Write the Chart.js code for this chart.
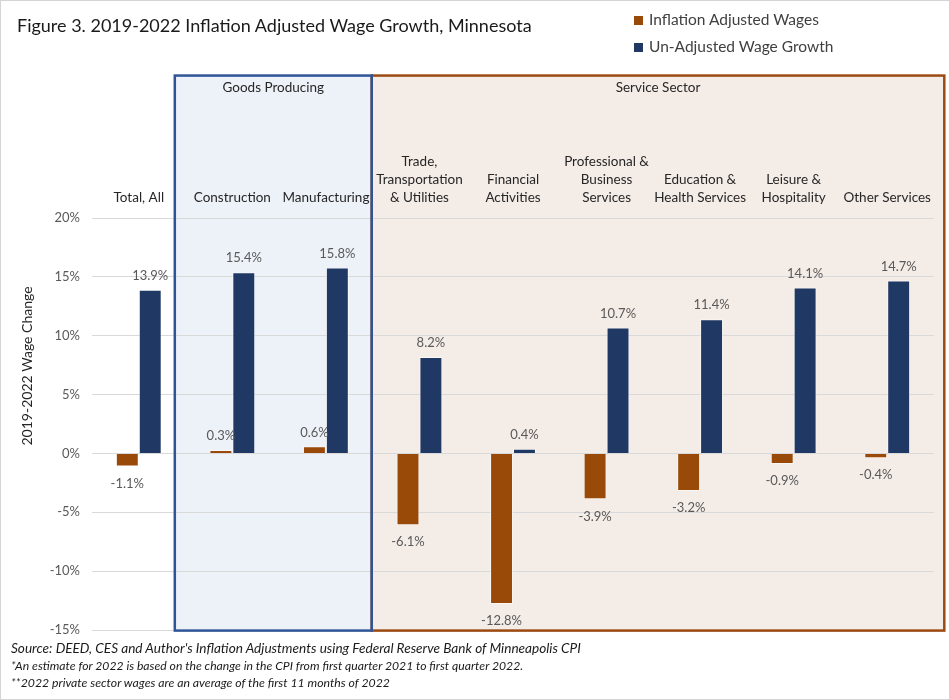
<!DOCTYPE html>
<html>
<head>
<meta charset="utf-8">
<script src="https://cdn.jsdelivr.net/npm/chart.js@4/dist/chart.umd.min.js"></script>
<style>
  html,body{margin:0;padding:0;background:#fff;}
  #wrap{position:relative;width:950px;height:700px;overflow:hidden;font-family:Lato,"Noto Sans",sans-serif;}
  #c{position:absolute;left:0;top:0;}
  #frame{position:absolute;left:0;top:0;width:948px;height:698px;border:1px solid #d4d4d4;pointer-events:none;}
  #title{position:absolute;left:17px;top:14px;font-size:18px;color:#1a1a1a;white-space:nowrap;}
  .leg{position:absolute;left:634px;font-size:15.5px;color:#404040;white-space:nowrap;line-height:18px;}
  .leg i{display:inline-block;width:9px;height:9px;margin-right:6px;vertical-align:0px;}
  .note{position:absolute;left:11px;font-style:italic;color:#1a1a1a;white-space:nowrap;}
</style>
</head>
<body>
<div id="wrap">
  <canvas id="c" width="950" height="700"></canvas>
  <div id="title"></div>
  <div id="legend"></div>
  <div id="notes"></div>
  <div id="frame"></div>
</div>
<script>
// ---------- data ----------
const chartTitle = "Figure 3. 2019-2022 Inflation Adjusted Wage Growth, Minnesota";
const yAxisTitle = "2019-2022 Wage Change";
const categories = [
  ["Total, All"],
  ["Construction"],
  ["Manufacturing"],
  ["Trade,", "Transportation", "& Utilities"],
  ["Financial", "Activities"],
  ["Professional &", "Business", "Services"],
  ["Education &", "Health Services"],
  ["Leisure &", "Hospitality"],
  ["Other Services"]
];
const seriesNames = ["Inflation Adjusted Wages", "Un-Adjusted Wage Growth"];
const inflationAdjusted = [-1.1, 0.3, 0.6, -6.1, -12.8, -3.9, -3.2, -0.9, -0.4];
const unadjusted = [13.9, 15.4, 15.8, 8.2, 0.4, 10.7, 11.4, 14.1, 14.7];
const yMin = -15, yMax = 20, yStep = 5;
const groupNames = ["Goods Producing", "Service Sector"];
const notes = [
  "Source: DEED, CES and Author's Inflation Adjustments using Federal Reserve Bank of Minneapolis CPI",
  "*An estimate for 2022 is based on the change in the CPI from first quarter 2021 to first quarter 2022.",
  "**2022 private sector wages are an average of the first 11 months of 2022"
];

// ---------- styles / layout ----------
const colors = ["#9A4A08", "#1F3864"];
const groupBoxes = [ // extents in category-index units and y-value units
  {x0: 0.385, x1: 2.49, y0: 32.1, y1: -15.05, fill: "#EDF2F9", stroke: "#2F5597"},
  {x0: 2.49, x1: 8.61, y0: 32.1, y1: -15.05, fill: "#F4ECE7", stroke: "#9C4A12"}
];
const FONT = "Lato, 'Noto Sans', sans-serif";

document.getElementById('title').textContent = chartTitle;
const legEl = document.getElementById('legend');
seriesNames.forEach((n, i) => {
  const d = document.createElement('div');
  d.className = 'leg';
  d.style.top = (10 + i * 27) + 'px';
  d.innerHTML = '<i style="background:' + colors[i] + '"></i>';
  d.appendChild(document.createTextNode(n));
  legEl.appendChild(d);
});
const notesEl = document.getElementById('notes');
const noteTops = [640, 658, 675];
const noteSizes = [13.6, 12.2, 12.25];
notes.forEach((t, i) => {
  const d = document.createElement('div');
  d.className = 'note';
  d.style.top = noteTops[i] + 'px';
  d.style.fontSize = noteSizes[i] + 'px';
  d.textContent = t;
  notesEl.appendChild(d);
});

const groupPlugin = {
  id: 'groups',
  beforeDraw(chart) {
    const {ctx, scales: {x, y}} = chart;
    ctx.save();
    groupBoxes.forEach(b => {
      const l = x.getPixelForValue(b.x0), r = x.getPixelForValue(b.x1);
      const t = y.getPixelForValue(b.y0), bt = y.getPixelForValue(b.y1);
      ctx.fillStyle = b.fill;
      ctx.fillRect(l, t, r - l, bt - t);
    });
    ctx.restore();
  },
  afterDatasetsDraw(chart) {
    const {ctx, scales: {x, y}} = chart;
    ctx.save();
    ctx.lineWidth = 2.5;
    for (let i = groupBoxes.length - 1; i >= 0; i--) {
      const b = groupBoxes[i];
      const l = x.getPixelForValue(b.x0), r = x.getPixelForValue(b.x1);
      const t = y.getPixelForValue(b.y0), bt = y.getPixelForValue(b.y1);
      ctx.strokeStyle = b.stroke;
      ctx.strokeRect(l, t, r - l, bt - t);
    }
    ctx.font = "13.5px " + FONT;
    ctx.fillStyle = "#262626";
    ctx.textAlign = 'center';
    ctx.textBaseline = 'middle';
    groupBoxes.forEach((b, i) => {
      const l = x.getPixelForValue(b.x0), r = x.getPixelForValue(b.x1);
      const t = y.getPixelForValue(b.y0);
      ctx.fillText(groupNames[i], (l + r) / 2, t + 12);
    });
    // value labels
    ctx.font = "13px " + FONT;
    ctx.fillStyle = "#595959";
    chart.data.datasets.forEach((ds, di) => {
      const meta = chart.getDatasetMeta(di);
      meta.data.forEach((bar, j) => {
        const v = ds.data[j];
        const yy = v >= 0 ? bar.y - 14 : bar.y + 17;
        ctx.fillText(v.toFixed(1) + '%', bar.x, yy);
      });
    });
    // y axis title
    ctx.save();
    ctx.translate(27, 366);
    ctx.rotate(-Math.PI / 2);
    ctx.font = "14px " + FONT;
    ctx.fillStyle = "#262626";
    ctx.fillText(yAxisTitle, 0, 0);
    ctx.restore();
    ctx.restore();
  }
};

new Chart(document.getElementById('c'), {
  type: 'bar',
  data: {
    labels: categories,
    datasets: [
      {label: seriesNames[0], data: inflationAdjusted, backgroundColor: colors[0], borderColor: 'rgba(255,255,255,0.55)', borderWidth: 1},
      {label: seriesNames[1], data: unadjusted, backgroundColor: colors[1], borderColor: 'rgba(255,255,255,0.55)', borderWidth: 1}
    ]
  },
  options: {
    responsive: false,
    animation: false,
    devicePixelRatio: 1,
    layout: {padding: {top: 60, left: 0, right: 16, bottom: 70}},
    datasets: {bar: {categoryPercentage: 0.49, barPercentage: 1}},
    plugins: {legend: {display: false}, tooltip: {enabled: false}, title: {display: false}},
    scales: {
      x: {
        position: 'top',
        grid: {display: false, drawTicks: false},
        border: {display: false},
        ticks: {
          autoSkip: false, maxRotation: 0, minRotation: 0, padding: 11,
          color: '#262626',
          font: {family: FONT, size: 13.5, lineHeight: 1.333}
        },
        afterFit(scale) { scale.height = 158; }
      },
      y: {
        min: yMin, max: yMax,
        grid: {color: '#D9D9D9', lineWidth: 1, drawTicks: false},
        border: {display: false},
        ticks: {
          stepSize: yStep, padding: 12, color: '#595959',
          font: {family: FONT, size: 13},
          callback: v => v + '%'
        },
        afterFit(scale) { scale.width = 92; }
      }
    }
  },
  plugins: [groupPlugin]
});
</script>
</body>
</html>
